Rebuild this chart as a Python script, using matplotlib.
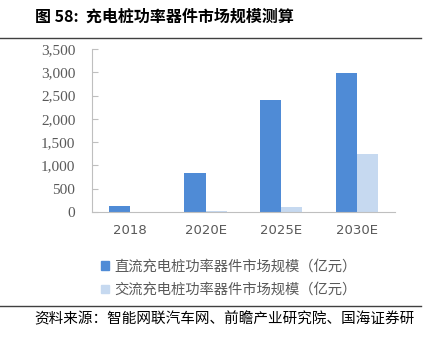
import numpy as np
import matplotlib.pyplot as plt
from matplotlib.lines import Line2D

plt.rcParams['font.family'] = ['Noto Sans CJK SC', 'DejaVu Sans']

categories = ["2018", "2020E", "2025E", "2030E"]
dc_values = [130, 830, 2400, 2980]
ac_values = [3, 20, 110, 1250]
yticks = [0, 500, 1000, 1500, 2000, 2500, 3000, 3500]

dc_label = "直流充电桩功率器件市场规模（亿元）"
ac_label = "交流充电桩功率器件市场规模（亿元）"
dark = "#4F8BD6"
light = "#C6D9F0"
grey = "#595959"

fig = plt.figure(figsize=(4.32, 3.38), dpi=100)
ax = fig.add_axes([0.213, 0.373, 0.701, 0.482])

x = np.arange(len(categories))
w = 0.28
ax.bar(x - w / 2, dc_values, w, color=dark)
ax.bar(x + w / 2, ac_values, w, color=light)

ax.set_xlim(-0.5, len(categories) - 0.5)
ax.set_ylim(0, 3500)
ax.set_yticks(yticks)
ax.set_yticklabels([f"{v:,}" for v in yticks], family="Liberation Serif",
                   fontsize=11, color=grey)
ax.set_xticks(x)
ax.set_xticklabels(categories, family="DejaVu Sans", fontsize=9.5, color=grey)
ax.tick_params(axis='x', length=0, pad=9)
ax.tick_params(axis='y', direction='in', length=4, color="#BFBFBF", pad=12)
for s in ["top", "right"]:
    ax.spines[s].set_visible(False)
ax.spines["left"].set_color("#BFBFBF")
ax.spines["bottom"].set_color("#BFBFBF")

# title and rules
fig.text(0.081, 0.952, "图 58:  充电桩功率器件市场规模测算", fontsize=11.5,
         fontweight="bold", va="center", ha="left")
fig.add_artist(Line2D([0.0, 0.975], [0.888, 0.888], color="#404040", lw=1))
fig.add_artist(Line2D([0.0, 0.975], [0.095, 0.095], color="#404040", lw=1))

# legend
handles = [plt.Rectangle((0, 0), 1, 1, color=dark),
           plt.Rectangle((0, 0), 1, 1, color=light)]
fig.legend(handles, [dc_label, ac_label], loc="upper left",
           bbox_to_anchor=(0.205, 0.27), frameon=False, fontsize=10.3,
           handlelength=0.55, handleheight=0.55, handletextpad=0.35,
           labelspacing=0.65, labelcolor=grey)

fig.text(0.08, 0.056, "资料来源：智能网联汽车网、前瞻产业研究院、国海证券研", fontsize=10.5,
         va="center", ha="left")

fig.savefig("out.png", dpi=100)
